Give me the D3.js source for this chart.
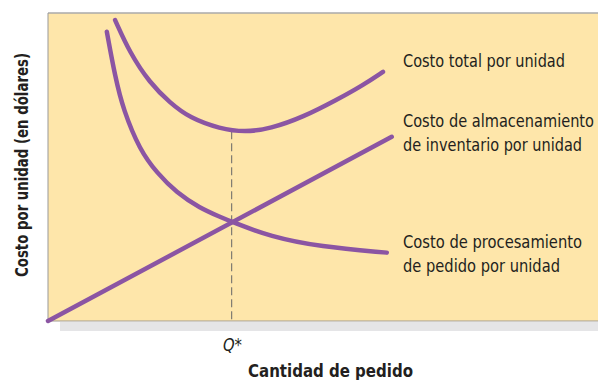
<!DOCTYPE html>
<html>
<head>
<meta charset="utf-8">
<script src="https://cdn.jsdelivr.net/npm/d3@7"></script>
<style>
  body { margin: 0; background: #fff; }
  text { font-family: "Liberation Sans Narrow", "DejaVu Sans Condensed", "Liberation Sans", sans-serif; fill: #231f20; }
</style>
</head>
<body>
<div id="chart"></div>
<script>
// values (quantity 0-100, cost 0-100)
var orderingCost = [
  [10.7, 93.9], [12.2, 79.3], [13.7, 68.5], [16.7, 55.5], [19.8, 48.1], [23.4, 41.6],
  [27.6, 36.7], [31.3, 33.8], [33.4, 32.2], [40.4, 27.4], [49.5, 24.1], [61.6, 22.2]
];
var totalCost = [
  [12.2, 97.7], [14.9, 87.0], [18.5, 77.3], [22.2, 70.8], [25.8, 65.9], [31.3, 62.4],
  [35.8, 61.3], [40.4, 62.4], [46.4, 66.2], [52.5, 71.8], [57.3, 76.6], [60.9, 80.9]
];
var holdingCost = [[0, 0], [62.5, 59.8]];
var qStar = 33.4;
var qStarCost = 61.6;

var seriesLabels = [
  { lines: ["Costo total por unidad"], widths: [162], y: 67 },
  { lines: ["Costo de almacenamiento", "de inventario por unidad"], widths: [191, 179], y: 127 },
  { lines: ["Costo de procesamiento", "de pedido por unidad"], widths: [179, 157], y: 248 }
];
var xTitle = "Cantidad de pedido";
var yTitle = "Costo por unidad (en dólares)";
var qLabel = "Q*";

(function() {
  var W = 598, H = 380;
  var plotLeft = 48, plotRight = 598, plotTop = 13, plotBottom = 321;
  var purple = "#8b55a3";

  var svg = d3.select("#chart").append("svg")
    .attr("width", W)
    .attr("height", H);

  var x = d3.scaleLinear().domain([0, 100]).range([plotLeft, plotRight]);
  var y = d3.scaleLinear().domain([0, 100]).range([plotBottom, plotTop]);

  // gray band under the plot
  svg.append("rect")
    .attr("x", 60).attr("y", plotBottom + 1)
    .attr("width", W - 60).attr("height", 9)
    .attr("fill", "#e5e5e7");

  svg.append("rect")
    .attr("x", plotLeft).attr("y", plotTop)
    .attr("width", plotRight - plotLeft).attr("height", plotBottom - plotTop)
    .attr("fill", "#fee6aa");

  svg.append("line")
    .attr("x1", plotLeft).attr("x2", plotRight).attr("y1", plotTop).attr("y2", plotTop)
    .attr("stroke", "#aaa").attr("stroke-width", 1.5);
  svg.append("line")
    .attr("x1", plotLeft).attr("x2", plotLeft).attr("y1", plotTop).attr("y2", plotBottom)
    .attr("stroke", "#999").attr("stroke-width", 1);
  svg.append("line")
    .attr("x1", plotLeft).attr("x2", plotRight).attr("y1", plotBottom).attr("y2", plotBottom)
    .attr("stroke", "#a09a90").attr("stroke-width", 1.2);

  // Q* dashed guide
  svg.append("line")
    .attr("x1", x(qStar)).attr("x2", x(qStar))
    .attr("y1", y(qStarCost)).attr("y2", plotBottom)
    .attr("stroke", "#666").attr("stroke-width", 1)
    .attr("stroke-dasharray", "8,4");

  var line = d3.line()
    .x(function(d) { return x(d[0]); })
    .y(function(d) { return y(d[1]); })
    .curve(d3.curveBasis);

  [holdingCost, orderingCost, totalCost].forEach(function(data) {
    svg.append("path")
      .datum(data)
      .attr("d", line)
      .attr("fill", "none")
      .attr("stroke", purple)
      .attr("stroke-width", 4.5)
      .attr("stroke-linecap", "round");
  });

  seriesLabels.forEach(function(lab) {
    lab.lines.forEach(function(t, i) {
      svg.append("text")
        .attr("x", 403)
        .attr("y", lab.y + i * 23.5)
        .attr("font-size", 17)
        .attr("textLength", lab.widths[i])
        .attr("lengthAdjust", "spacingAndGlyphs")
        .text(t);
    });
  });

  svg.append("text")
    .attr("x", 223)
    .attr("y", 351)
    .attr("font-size", 17)
    .attr("font-style", "italic")
    .attr("textLength", 19)
    .attr("lengthAdjust", "spacingAndGlyphs")
    .text(qLabel);

  svg.append("text")
    .attr("x", 248)
    .attr("y", 377)
    .attr("font-size", 18)
    .attr("font-weight", "bold")
    .attr("textLength", 165)
    .attr("lengthAdjust", "spacingAndGlyphs")
    .text(xTitle);

  svg.append("text")
    .attr("transform", "translate(28,277) rotate(-90)")
    .attr("font-size", 17)
    .attr("font-weight", "bold")
    .attr("textLength", 224)
    .attr("lengthAdjust", "spacingAndGlyphs")
    .text(yTitle);
}());
</script>
</body>
</html>
